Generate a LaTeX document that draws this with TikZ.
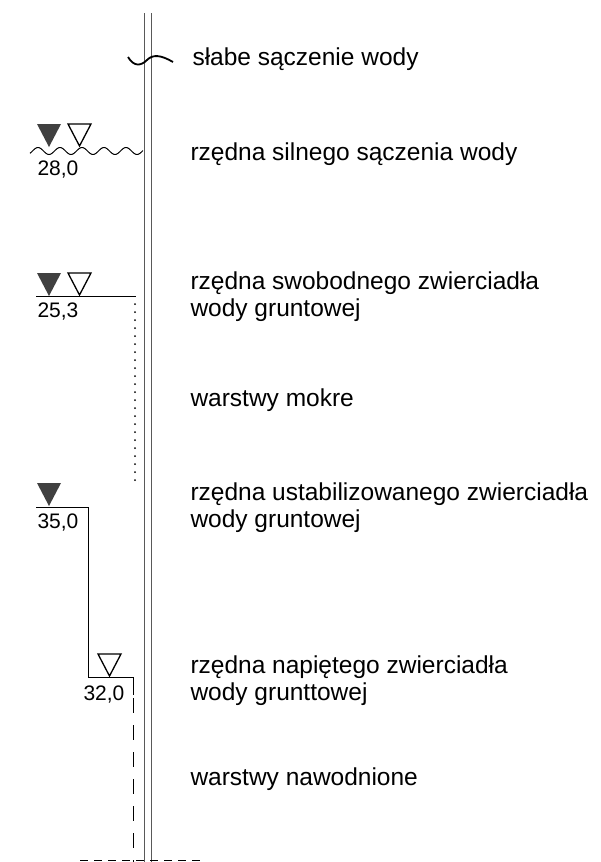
\documentclass[tikz,border=0pt]{standalone}
\usepackage{fontspec}
\setmainfont{Liberation Sans}
\usetikzlibrary{positioning}

\tikzset{
    opis/.style={anchor=base west, inner sep=0pt, align=left, font=\fontsize{24.5}{26.5}\selectfont},
    rzedna/.style={anchor=west, inner sep=0pt, font=\fontsize{21}{24}\selectfont},
    rura/.style={black!65, line width=1pt},
    kropki/.style={line width=2pt, line cap=round, dash pattern=on 0pt off 8pt},
}

\begin{document}
\begin{tikzpicture}[x=1pt, y=-1pt, line width=1pt]
            \useasboundingbox (0,0) rectangle (601,862);

            % Borehole (pipe)
            \draw[rura] (144,13) -- (144,862);
            \draw[rura] (151,13) -- (151,862);

            % Weak seepage
            \draw[line width=1.8pt] (128,57) .. controls (134,67) and (141,66) .. (147,60)
                .. controls (153,54) and (161,55) .. (173,62);
            \node[opis] (slabe) at (192,65) {słabe sączenie wody};

            % Strong seepage
            \draw plot[domain=30:143, samples=120, smooth] (\x, {151+3.5*cos(16.3636*(\x-27))});
            \node[rzedna] (r280) at (37,170) {28,0};
            \node[opis] (silne) at (190,160) {rzędna silnego sączenia wody};

            % Free water table
            \draw (36,296) -- (136,296);
            \draw[kropki] (135,304) -- (135,484);
            \node[rzedna] (r253) at (37,312) {25,3};
            \node[opis] (swob) at (190,316) {rzędna swobodnego zwierciadła\\wody gruntowej};
            \node[opis] (mokre) at (190,406) {warstwy mokre};

            % Stabilised and confined water table
            \draw (36,507) -- (88,507) -- (88,677) -- (133,677) -- (133,695);
            \draw[dash pattern=on 15pt off 12pt] (133,698) -- (133,862);
            \node[rzedna] (r350) at (37,523) {35,0};
            \node[rzedna] (r320) at (83,695) {32,0};
            \node[opis] (ustab) at (190,527) {rzędna ustabilizowanego zwierciadła\\wody gruntowej};
            \node[opis] (napiete) at (190,700) {rzędna napiętego zwierciadła\\wody grunttowej};
            \node[opis] (nawodn) at (190,785) {warstwy nawodnione};

            % Level marks
            \foreach \x/\y in {37/124, 37/273, 37/483} {
                \fill[black!75] (\x,\y) -- ++(24,0) -- ++(-12,23) -- cycle;
            }
            \foreach \x/\y in {68/124, 68/273, 98/654} {
                \draw[line width=1.3pt, line join=miter] (\x,\y) -- ++(23,0) -- ++(-11.5,22) -- cycle;
            }

            % Bottom of the borehole
            \draw[dash pattern=on 8pt off 6pt] (80,860) -- (202,860);
        \end{tikzpicture}
\end{document}
